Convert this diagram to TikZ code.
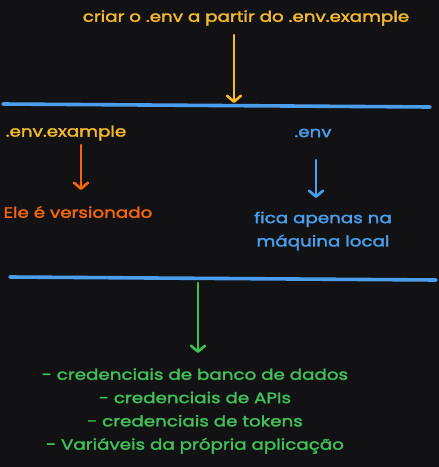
\documentclass[tikz,border=0pt]{standalone}
\usepackage{fontspec}
\setmainfont{Poppins}[FakeStretch=1.22,FakeBold=2]
\usetikzlibrary{arrows.meta,positioning}
\definecolor{fundo}{HTML}{121214}
\definecolor{amarelo}{HTML}{F5BA2E}
\definecolor{laranja}{HTML}{F76707}
\definecolor{azul}{HTML}{4A9EED}
\definecolor{verde}{HTML}{40C057}

\begin{document}
\begin{tikzpicture}[x=1pt,y=-1pt,
	seta/.style={line width=2.6pt,line cap=round,-{Straight Barb[length=6pt,width=14pt,round]}},
	divisor/.style={azul,line width=3.6pt,line cap=round},
	rotulo/.style={font=\fontsize{15}{23.3}\selectfont,inner sep=0pt}]
		\fill[fundo] (0,0) rectangle (439,467);
		\node[rotulo,amarelo] (titulo) at (246,18) {criar o .env a partir do .env.example};
		\coordinate (l1a) at (3,104);
		\coordinate (l1b) at (430,107);
		\draw[divisor] (l1a) -- (l1b);
		\coordinate (alvo1) at (234,103);
		\draw[seta,amarelo] (alvo1 |- 0,35) -- (alvo1);
		\node[rotulo,amarelo] (exemplo) at (66,133) {.env.example};
		\node[rotulo,laranja] (versionado) at (78,212) {Ele é versionado};
		\coordinate (meio1) at (81,0);
		\draw[seta,laranja] (meio1 |- 0,145) -- (meio1 |- 0,190);
		\node[rotulo,azul] (env) at (313,133) {.env};
		\node[rotulo,azul,align=center] (local) at (323,231) {fica apenas na\\máquina local};
		\coordinate (meio2) at (316,0);
		\draw[seta,azul] (meio2 |- 0,160) -- (meio2 |- 0,198);
		\coordinate (l2a) at (10,277);
		\coordinate (l2b) at (436,280);
		\draw[divisor] (l2a) -- (l2b);
		\coordinate (alvo2) at (198,283);
		\node[rotulo,verde,align=center] (lista) at (195,411) {- credenciais de banco de dados\\- credenciais de APIs\\- credenciais de tokens\\- Variáveis da própria aplicação};
		\draw[seta,verde] (alvo2) -- (alvo2 |- 0,353);
	\end{tikzpicture}
\end{document}
